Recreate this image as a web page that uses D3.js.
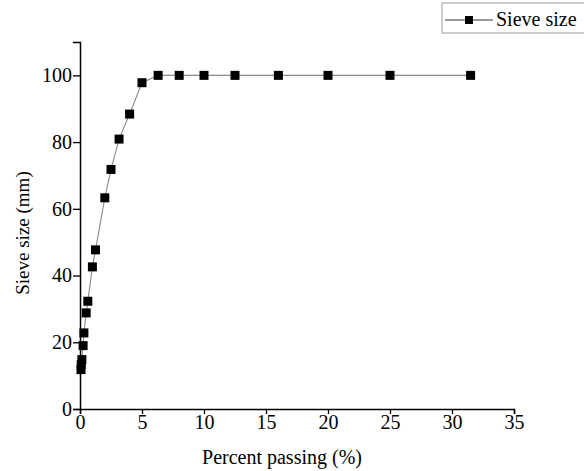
<!DOCTYPE html>
<html>
<head>
<meta charset="utf-8">
<script src="https://cdn.jsdelivr.net/npm/d3@7/dist/d3.min.js"></script>
<style>
  body { margin: 0; background: #fff; }
  svg text { font-family: "Liberation Serif", "Times New Roman", serif; }
</style>
</head>
<body>
<svg width="584" height="471"></svg>
<script>
// data
const percentPassing = [0.08, 0.1, 0.15, 0.25, 0.315, 0.5, 0.63, 1, 1.25, 2, 2.5, 3.15, 4, 5, 6.3, 8, 10, 12.5, 16, 20, 25, 31.5];
const sieveSize = [11.8, 13.3, 14.8, 19, 22.8, 28.8, 32.3, 42.6, 47.7, 63.3, 71.8, 80.9, 88.4, 97.8, 100, 100, 100, 100, 100, 100, 100, 100];
const xTicks = [0, 5, 10, 15, 20, 25, 30, 35];
const yTicks = [0, 20, 40, 60, 80, 100];
const seriesName = "Sieve size";

const svg = d3.select("svg");
const fontFam = "'Liberation Serif', 'Times New Roman', serif";

const x = d3.scaleLinear().domain([0, 35]).range([80, 514]);
const y = d3.scaleLinear().domain([0, 110]).range([409, 42]);

// minor ticks
const xMinor = d3.range(0, 35.01, 2.5).filter(v => v % 5 !== 0);
const yMinor = d3.range(0, 110.01, 10).filter(v => v % 20 !== 0);

const gx = svg.append("g").attr("transform", `translate(0,${y(0)})`);
gx.call(d3.axisBottom(x).tickValues(xMinor).tickSize(3).tickFormat(""));
gx.call(d3.axisBottom(x).tickValues(xTicks).tickSize(5).tickPadding(1));

const gy = svg.append("g").attr("transform", `translate(${x(0)},0)`);
gy.call(d3.axisLeft(y).tickValues(yMinor).tickSize(3).tickFormat(""));
gy.call(d3.axisLeft(y).tickValues(yTicks).tickSize(7).tickPadding(1));

[gx, gy].forEach(g => g.attr("font-family", fontFam).attr("font-size", 20));
svg.selectAll(".domain").attr("stroke", "#000").attr("stroke-width", 1.5);
svg.selectAll(".tick line").attr("stroke", "#000").attr("stroke-width", 1.3);
svg.selectAll(".tick text")
    .attr("fill", "#000")
    .style("font-family", fontFam)
    .style("font-size", "20px");

// axis titles
svg.append("text")
    .attr("x", 282)
    .attr("y", 464)
    .attr("text-anchor", "middle")
    .style("font-size", "20px")
    .text("Percent passing (%)");

svg.append("text")
    .attr("transform", "translate(29,233) rotate(-90)")
    .attr("text-anchor", "middle")
    .style("font-size", "19px")
    .text("Sieve size (mm)");

// series
const pts = percentPassing.map((d, i) => ({ x: d, y: sieveSize[i] }));

svg.append("path")
    .datum(pts)
    .attr("fill", "none")
    .attr("stroke", "#8a8a8a")
    .attr("stroke-width", 1.1)
    .attr("d", d3.line().x(d => x(d.x)).y(d => y(d.y)));

const ms = 9;
svg.selectAll("rect.pt")
    .data(pts)
    .enter()
    .append("rect")
    .attr("class", "pt")
    .attr("x", d => x(d.x) - ms / 2)
    .attr("y", d => y(d.y) - ms / 2)
    .attr("width", ms)
    .attr("height", ms)
    .attr("fill", "#000");

// legend
const lg = svg.append("g").attr("transform", "translate(442,3)");
lg.append("rect")
    .attr("width", 150).attr("height", 30)
    .attr("fill", "#fff")
    .attr("stroke", "#999").attr("stroke-width", 1);
lg.append("line")
    .attr("x1", 3).attr("x2", 51).attr("y1", 17).attr("y2", 17)
    .attr("stroke", "#333").attr("stroke-width", 1);
lg.append("rect")
    .attr("x", 27 - 4).attr("y", 17 - 4)
    .attr("width", 8).attr("height", 8)
    .attr("fill", "#000");
lg.append("text")
    .attr("x", 54).attr("y", 23)
    .style("font-size", "20px")
    .text(seriesName);
</script>
</body>
</html>
